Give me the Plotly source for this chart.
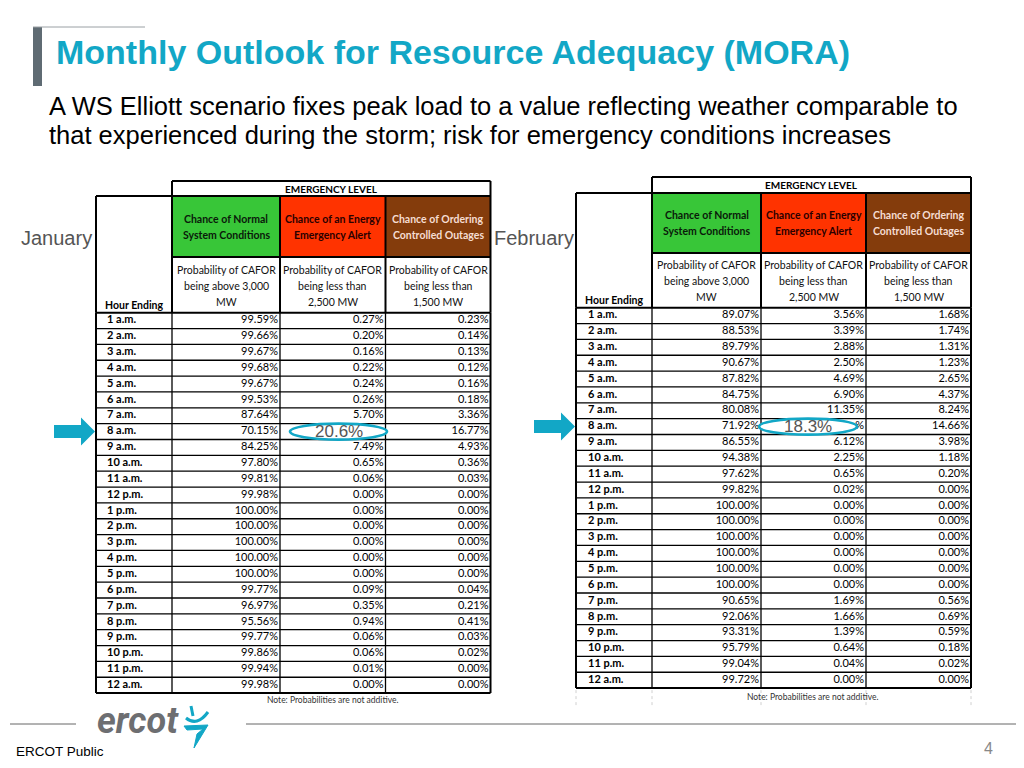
import plotly.graph_objects as go

# ---------------- data ----------------
hours = ["1 a.m.", "2 a.m.", "3 a.m.", "4 a.m.", "5 a.m.", "6 a.m.", "7 a.m.", "8 a.m.",
         "9 a.m.", "10 a.m.", "11 a.m.", "12 p.m.", "1 p.m.", "2 p.m.", "3 p.m.", "4 p.m.",
         "5 p.m.", "6 p.m.", "7 p.m.", "8 p.m.", "9 p.m.", "10 p.m.", "11 p.m.", "12 a.m."]

jan_normal = [99.59, 99.66, 99.67, 99.68, 99.67, 99.53, 87.64, 70.15, 84.25, 97.80, 99.81, 99.98,
              100.00, 100.00, 100.00, 100.00, 100.00, 99.77, 96.97, 95.56, 99.77, 99.86, 99.94, 99.98]
jan_eea = [0.27, 0.20, 0.16, 0.22, 0.24, 0.26, 5.70, 20.60, 7.49, 0.65, 0.06, 0.00,
           0.00, 0.00, 0.00, 0.00, 0.00, 0.09, 0.35, 0.94, 0.06, 0.06, 0.01, 0.00]
jan_outage = [0.23, 0.14, 0.13, 0.12, 0.16, 0.18, 3.36, 16.77, 4.93, 0.36, 0.03, 0.00,
              0.00, 0.00, 0.00, 0.00, 0.00, 0.04, 0.21, 0.41, 0.03, 0.02, 0.00, 0.00]

feb_normal = [89.07, 88.53, 89.79, 90.67, 87.82, 84.75, 80.08, 71.92, 86.55, 94.38, 97.62, 99.82,
              100.00, 100.00, 100.00, 100.00, 100.00, 100.00, 90.65, 92.06, 93.31, 95.79, 99.04, 99.72]
feb_eea = [3.56, 3.39, 2.88, 2.50, 4.69, 6.90, 11.35, 18.30, 6.12, 2.25, 0.65, 0.02,
           0.00, 0.00, 0.00, 0.00, 0.00, 0.00, 1.69, 1.66, 1.39, 0.64, 0.04, 0.00]
feb_outage = [1.68, 1.74, 1.31, 1.23, 2.65, 4.37, 8.24, 14.66, 3.98, 1.18, 0.20, 0.00,
              0.00, 0.00, 0.00, 0.00, 0.00, 0.00, 0.56, 0.69, 0.59, 0.18, 0.02, 0.00]

circled_hour = "8 a.m."
jan_circled = "20.6%"
feb_circled = "18.3%"

month_names = ["January", "February"]
level_title = "EMERGENCY LEVEL"
level_headers = [["Chance of Normal", "System Conditions"],
                 ["Chance of an Energy", "Emergency Alert"],
                 ["Chance of Ordering", "Controlled Outages"]]
level_desc = [["Probability of CAFOR", "being above 3,000", "MW"],
              ["Probability of CAFOR", "being less than", "2,500 MW"],
              ["Probability of CAFOR", "being less than", "1,500 MW"]]
hour_header = "Hour Ending"
note_text = "Note: Probabilities are not additive."

title_text = "Monthly Outlook for Resource Adequacy (MORA)"
subtitle_lines = ["A WS Elliott scenario fixes peak load to a value reflecting weather comparable to",
                  "that experienced during the storm; risk for emergency conditions increases"]

# ---------------- style ----------------
TEAL = "#12A7C6"
GREEN = "#38C638"
RED = "#FF3300"
BROWN = "#843C0C"
TFONT = "Lato"
SANS = "Liberation Sans"

fig = go.Figure()
shapes = []
annotations = []


def hline(x0, x1, y, w=1.2, c="black"):
    shapes.append(dict(type="line", x0=x0, x1=x1, y0=y, y1=y, line=dict(color=c, width=w), layer="below"))


def vline(x, y0, y1, w=1.2, c="black", dash="solid"):
    shapes.append(dict(type="line", x0=x, x1=x, y0=y0, y1=y1, line=dict(color=c, width=w, dash=dash),
                       layer="below"))


def draw_table(cols, y_lvl, y_col, y_desc, y_rows, rh, normal, eea, outage, circled, ell_dx, remnant,
               month, month_x, note_x, note_y, label_dx, faint_tail):
    n = len(hours)
    y_end = y_rows + n * rh
    c0, c1, c2, c3, c4 = cols
    # header fills
    for (xa, xb), col in zip([(c1, c2), (c2, c3), (c3, c4)], [GREEN, RED, BROWN]):
        shapes.append(dict(type="rect", x0=xa, x1=xb, y0=y_col, y1=y_desc, fillcolor=col,
                           line=dict(width=0), layer="below"))
    # header borders
    hline(c1, c4, y_lvl, 2)
    hline(c0, c4, y_col, 2)
    hline(c1, c4, y_desc, 2)
    vline(c1, y_lvl, y_rows, 2)
    vline(c4, y_lvl, y_rows, 2)
    vline(c0, y_col, y_rows, 2)
    vline(c2, y_col, y_rows, 2)
    vline(c3, y_col, y_rows, 2)
    # body grid
    for i in range(n + 1):
        y = y_rows + i * rh
        hline(c0, c4, y, 2 if i in (0, n) else 1.3)
    for x in cols:
        vline(x, y_rows, y_end, 2 if x in (c0, c4) else 1.3)
        if faint_tail:
            vline(x, y_end + 2, y_end + 18, 1, "#d0d0d0", "dot")
    # header text
    annotations.append(dict(x=(c1 + c4) / 2, y=(y_lvl + y_col) / 2, text="<b>" + level_title + "</b>",
                            showarrow=False, font=dict(family=TFONT, size=10, color="black")))
    tcolors = ["#0a1a0a", "#2a0000", "#F6DDD2"]
    for k, (xa, xb) in enumerate([(c1, c2), (c2, c3), (c3, c4)]):
        ymid = (y_col + y_desc) / 2
        for m, ln in enumerate(level_headers[k]):
            annotations.append(dict(x=(xa + xb) / 2, y=ymid + (m - 0.5) * 16, text="<b>" + ln + "</b>",
                                    showarrow=False, font=dict(family=TFONT, size=10.5, color=tcolors[k])))
        dmid = (y_desc + y_rows) / 2
        for m, ln in enumerate(level_desc[k]):
            annotations.append(dict(x=(xa + xb) / 2, y=dmid + (m - 1) * 16 + 1, text=ln,
                                    showarrow=False, font=dict(family=TFONT, size=10.5, color="#111")))
    annotations.append(dict(x=c0 + 7, y=y_rows - 8, text="<b>" + hour_header + "</b>", xanchor="left",
                            showarrow=False, font=dict(family=TFONT, size=10.5, color="black")))
    # body text
    idx = hours.index(circled_hour)
    centers = [y_rows + (i + 0.5) * rh for i in range(n)]
    fig.add_trace(go.Scatter(x=[c0 + label_dx] * n, y=centers, mode="text", text=hours,
                             textposition="middle right", hoverinfo="skip",
                             textfont=dict(family=TFONT, size=11, color="black", weight="bold")))
    for j, (series, xr) in enumerate([(normal, c2), (eea, c3), (outage, c4)]):
        labels = [f"{v:.2f}%" for v in series]
        if j == 1:
            labels[idx] = remnant  # value hidden behind the highlight ellipse
        fig.add_trace(go.Scatter(x=[xr - 2] * n, y=centers, mode="text",
                                 text=labels, textposition="middle left",
                                 hoverinfo="skip", textfont=dict(family=TFONT, size=11, color="black")))
    # circled value
    yc = centers[idx]
    ex0, ex1 = c2 + ell_dx[0], c3 + ell_dx[1]
    shapes.append(dict(type="circle", x0=ex0, x1=ex1, y0=yc - 8, y1=yc + 8,
                       fillcolor="white", line=dict(color=TEAL, width=2.6), layer="above"))
    annotations.append(dict(x=(ex0 + ex1) / 2, y=yc, text=circled, showarrow=False,
                            font=dict(family=SANS, size=17, color="#555")))
    # arrow
    tip = c0 - 1
    shapes.append(dict(type="path",
                       path=f"M {tip-41},{yc-6.5} L {tip-14},{yc-6.5} L {tip-14},{yc-14} L {tip},{yc} "
                            f"L {tip-14},{yc+14} L {tip-14},{yc+6.5} L {tip-41},{yc+6.5} Z",
                       fillcolor=TEAL, line=dict(width=0), layer="above"))
    # month label
    annotations.append(dict(x=month_x, y=238, text=month, showarrow=False, xanchor="right",
                            font=dict(family=SANS, size=20, color="#555")))
    annotations.append(dict(x=note_x, y=note_y, text=note_text, showarrow=False,
                            font=dict(family=TFONT, size=8.5, color="#333")))


draw_table([96, 172, 280, 385.5, 490.5], 181, 196, 257, 312.7, 15.85,
           jan_normal, jan_eea, jan_outage, jan_circled, (10, 1.5), "",
           month_names[0], 94, 332, 700, 11, False)
draw_table([576, 652, 761, 866, 971], 177, 193, 253, 307.7, 15.85,
           feb_normal, feb_eea, feb_outage, feb_circled, (-2, -9), "%",
           month_names[1], 576, 812, 697, 12, True)

# title decoration
shapes.append(dict(type="rect", x0=33, x1=42, y0=27, y1=86, fillcolor="#5F6B73", line=dict(width=0)))
shapes.append(dict(type="line", x0=33, x1=145, y0=27, y1=27, line=dict(color="#9AA0A4", width=1)))
annotations.append(dict(x=54, y=52, text="<b>" + title_text + "</b>", showarrow=False, xanchor="left",
                        font=dict(family=SANS, size=34, color=TEAL)))
for k, line in enumerate(subtitle_lines):
    annotations.append(dict(x=47, y=106 + k * 29, text=line, showarrow=False, xanchor="left",
                            font=dict(family=SANS, size=25.5, color="black")))

# footer
shapes.append(dict(type="line", x0=10, x1=76, y0=724, y1=724, line=dict(color="#666", width=1)))
shapes.append(dict(type="line", x0=246, x1=1020, y0=724, y1=724, line=dict(color="#666", width=1)))
annotations.append(dict(x=95, y=721, text="<b><i>ercot</i></b>", showarrow=False, xanchor="left",
                        font=dict(family="Roboto", size=36, color="#6D6E71")))
shapes.append(dict(type="path", path="M 191,706 L 193,716", line=dict(color=TEAL, width=3)))
shapes.append(dict(type="path", path="M 186,718 Q 197,727 208,712", line=dict(color=TEAL, width=3)))
shapes.append(dict(type="path",
                   path="M 184,726 L 208,725 L 194,748 L 197,734 L 203,729 L 187,730 Z",
                   fillcolor=TEAL, line=dict(color=TEAL, width=1)))
annotations.append(dict(x=14, y=751, text="ERCOT Public", showarrow=False, xanchor="left",
                        font=dict(family=SANS, size=13.5, color="black")))
annotations.append(dict(x=988, y=748, text="4", showarrow=False,
                        font=dict(family=SANS, size=16, color="#888")))

# the page body has an 8px margin, so the figure covers page pixels 8..1016 x 8..760
fig.update_layout(
    width=1008, height=752, margin=dict(l=0, r=0, t=0, b=0),
    paper_bgcolor="white", plot_bgcolor="white", showlegend=False,
    xaxis=dict(range=[8, 1016], visible=False, fixedrange=True),
    yaxis=dict(range=[760, 8], visible=False, fixedrange=True),
    shapes=shapes, annotations=annotations,
)
fig.write_html("out.html")
